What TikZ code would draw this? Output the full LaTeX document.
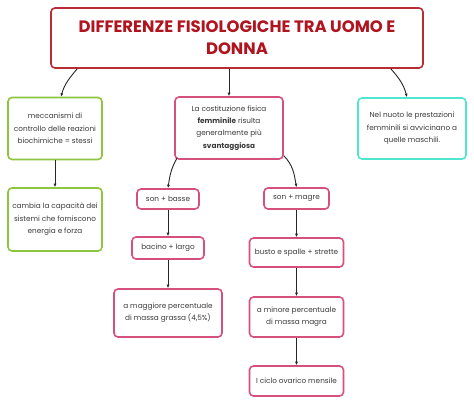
\documentclass[tikz,border=0pt]{standalone}
\usepackage{fontspec}
\setmainfont{Poppins}
\usepackage{tikz}
\usetikzlibrary{arrows.meta,positioning}
\usepackage{xcolor}
\definecolor{titlered}{HTML}{B0141F}
\definecolor{boxgreen}{HTML}{8CC63F}
\definecolor{boxpink}{HTML}{D6507C}
\definecolor{boxcyan}{HTML}{4EE6CF}
\definecolor{textgray}{HTML}{3A3A3A}

\begin{document}
\begin{tikzpicture}[
        x=1pt, y=1pt,
        box/.style={rectangle, draw, fill=white, line width=1.6pt, rounded corners=4pt, align=center, inner sep=0pt, text=textgray, font=\fontsize{7.3}{12.4}\selectfont},
        titlebox/.style={box, draw=titlered!90, text=titlered, minimum width=372pt, minimum height=60pt, font=\fontsize{16.5}{22}\selectfont\bfseries},
        greenbox/.style={box, draw=boxgreen},
        pinkbox/.style={box, draw=boxpink},
        cyanbox/.style={box, draw=boxcyan},
        line/.style={draw=black!85, line width=0.9pt, -{Latex[length=3.5pt,width=3pt]}}
    ]
    \useasboundingbox (0,0) rectangle (474,404);
    \node [titlebox] (title) at (237,366) {DIFFERENZE FISIOLOGICHE TRA UOMO E\\DONNA};
    \node [greenbox, minimum width=94pt, minimum height=62pt] (mecc) at (55,275.5) {meccanismi di\\controllo delle reazioni\\biochimiche = stessi};
    \node [greenbox, minimum width=94pt, minimum height=63pt, below of=mecc, node distance=91pt] (cambia) {cambia la capacità dei\\sistemi che forniscono\\energia e forza};
    \node [pinkbox, minimum width=108pt, minimum height=62pt] (costit) at (229,276) {La costituzione fisica\\\textbf{femminile} risulta\\generalmente più\\\textbf{svantaggiosa}};
    \node [cyanbox, minimum width=108pt, minimum height=61pt] (nuoto) at (412,275.5) {Nel nuoto le prestazioni\\femminili si avvicinano a\\quelle maschili.};
    \node [pinkbox, minimum width=62pt, minimum height=20pt] (basse) at (168,205) {son + basse};
    \node [pinkbox, minimum width=72pt, minimum height=22pt, below of=basse, node distance=49pt] (bacino) {bacino + largo};
    \node [pinkbox, minimum width=108pt, minimum height=48pt, below of=bacino, node distance=65pt] (grassa) {a maggiore percentuale\\di massa grassa (4,5\%)};
    \node [pinkbox, minimum width=65pt, minimum height=21pt] (magre) at (296.5,205.5) {son + magre};
    \node [pinkbox, minimum width=94pt, minimum height=29pt, below of=magre, node distance=54pt] (busto) {busto e spalle + strette};
    \node [pinkbox, minimum width=94pt, minimum height=40pt, below of=busto, node distance=64.5pt] (minore) {a minore percentuale\\di massa magra};
    \node [pinkbox, minimum width=94pt, minimum height=30pt, below of=minore, node distance=64pt] (ciclo) {I ciclo ovarico mensile};
    \path [line] ([xshift=27pt]title.south west) to[out=-130, in=75] ([xshift=6pt]mecc.north);
    \path [line] (title.south -| costit.north) -- (costit.north);
    \path [line] ([xshift=-33pt]title.south east) to[out=-48, in=105] ([xshift=-5pt]nuoto.north);
    \path [line] (mecc) -- (cambia);
    \path [line] ([xshift=3pt, yshift=2pt]costit.south west) to[out=-120, in=82] (basse.north);
    \path [line] ([yshift=4pt]costit.south east) to[out=-45, in=100] (magre.north);
    \path [line] (basse) -- (bacino);
    \path [line] (bacino) -- (grassa);
    \path [line] (magre) -- (busto);
    \path [line] (busto) -- (minore);
    \path [line] (minore) -- (ciclo);
    \end{tikzpicture}
\end{document}
